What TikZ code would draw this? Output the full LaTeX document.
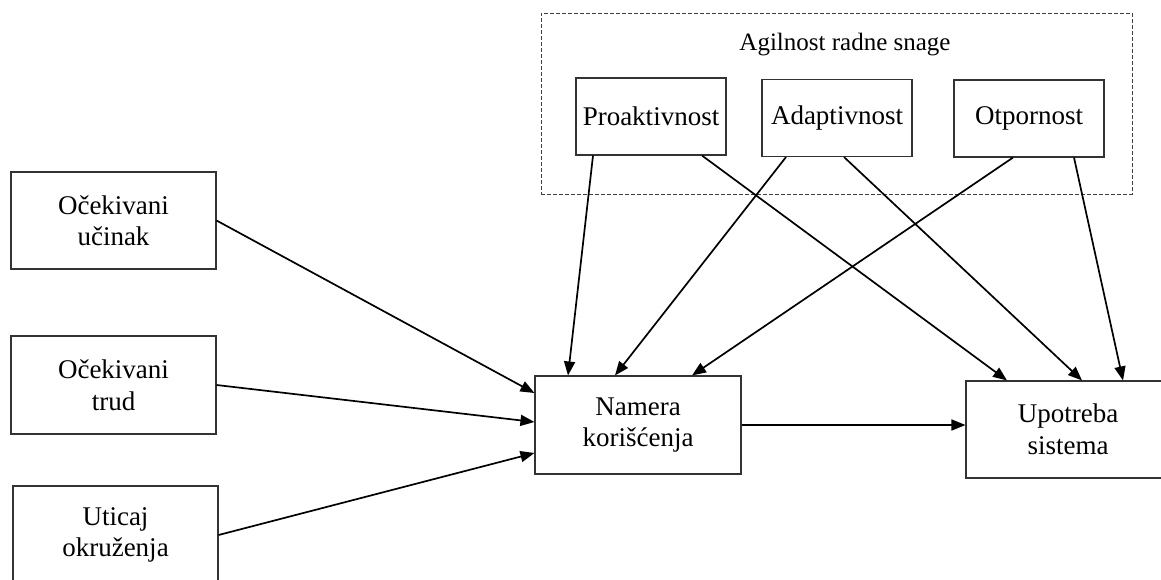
\documentclass[tikz,border=0pt]{standalone}
\usepackage{fontspec}
\setmainfont{Liberation Serif}
\usetikzlibrary{arrows.meta, positioning}

\begin{document}
\begin{tikzpicture}[
        x=1pt, y=-1pt,
        box/.style={rectangle, draw=black!80, line width=1.1pt, fill=white, align=center, inner sep=0pt, font=\fontsize{27}{31.5}\selectfont},
        bigbox/.style={box, minimum width=205pt, minimum height=98pt},
        smallbox/.style={box, minimum width=150pt, minimum height=77pt},
        groupbox/.style={rectangle, draw=black!75, line width=1pt, dash pattern=on 4pt off 2pt},
        arrow/.style={-{Triangle[length=14pt, width=11pt]}, line width=1.7pt, draw=black}
    ]
    \useasboundingbox (0,0) rectangle (1161,579);

    % The Group Frame
    \node (agil) [groupbox, minimum width=591pt, minimum height=181pt] at (836.5,103.5) {};
    \node (agiltitle) [font=\fontsize{25}{30}\selectfont, inner sep=0pt] at (845,45) {Agilnost radne snage};

    % The Factor Boxes
    \node (pro) [smallbox] at (651,116.5) {Proaktivnost};
    \node (ada) [smallbox] at (837,118) {Adaptivnost};
    \node (otp) [smallbox] at (1029,118.5) {Otpornost};

    \node (ucin) [bigbox, minimum height=97pt] at (113.5,220.5) {Očekivani\\učinak};
    \node (trud) [bigbox] at (113.5,385) {Očekivani\\trud};
    \node (utic) [bigbox] at (115.5,535) {Uticaj\\okruženja};

    \node (nam) [bigbox, minimum width=206pt] at (638,425) {Namera\\korišćenja};
    \node (upo) [bigbox, minimum width=204pt, minimum height=97pt] at (1068,429.5) {Upotreba\\sistema};

    % The Arrows
    \draw [arrow] (ucin.east) -- ([yshift=32pt]nam.west);
    \draw [arrow] (trud.east) -- ([yshift=3pt]nam.west);
    \draw [arrow] (utic.east) -- ([yshift=-28pt]nam.west);

    \draw [arrow] ([xshift=-58pt]pro.south) -- ([xshift=-70pt]nam.north);
    \draw [arrow] ([xshift=51pt]pro.south) -- ([xshift=-61pt]upo.north);
    \draw [arrow] ([xshift=-51pt]ada.south) -- ([xshift=-23pt]nam.north);
    \draw [arrow] ([xshift=7pt]ada.south) -- ([xshift=14pt]upo.north);
    \draw [arrow] ([xshift=-16pt]otp.south) -- ([xshift=54pt]nam.north);
    \draw [arrow] ([xshift=45pt]otp.south) -- ([xshift=55pt]upo.north);

    \draw [arrow] (nam.east) -- (nam.east -| upo.west);

\end{tikzpicture}
\end{document}
